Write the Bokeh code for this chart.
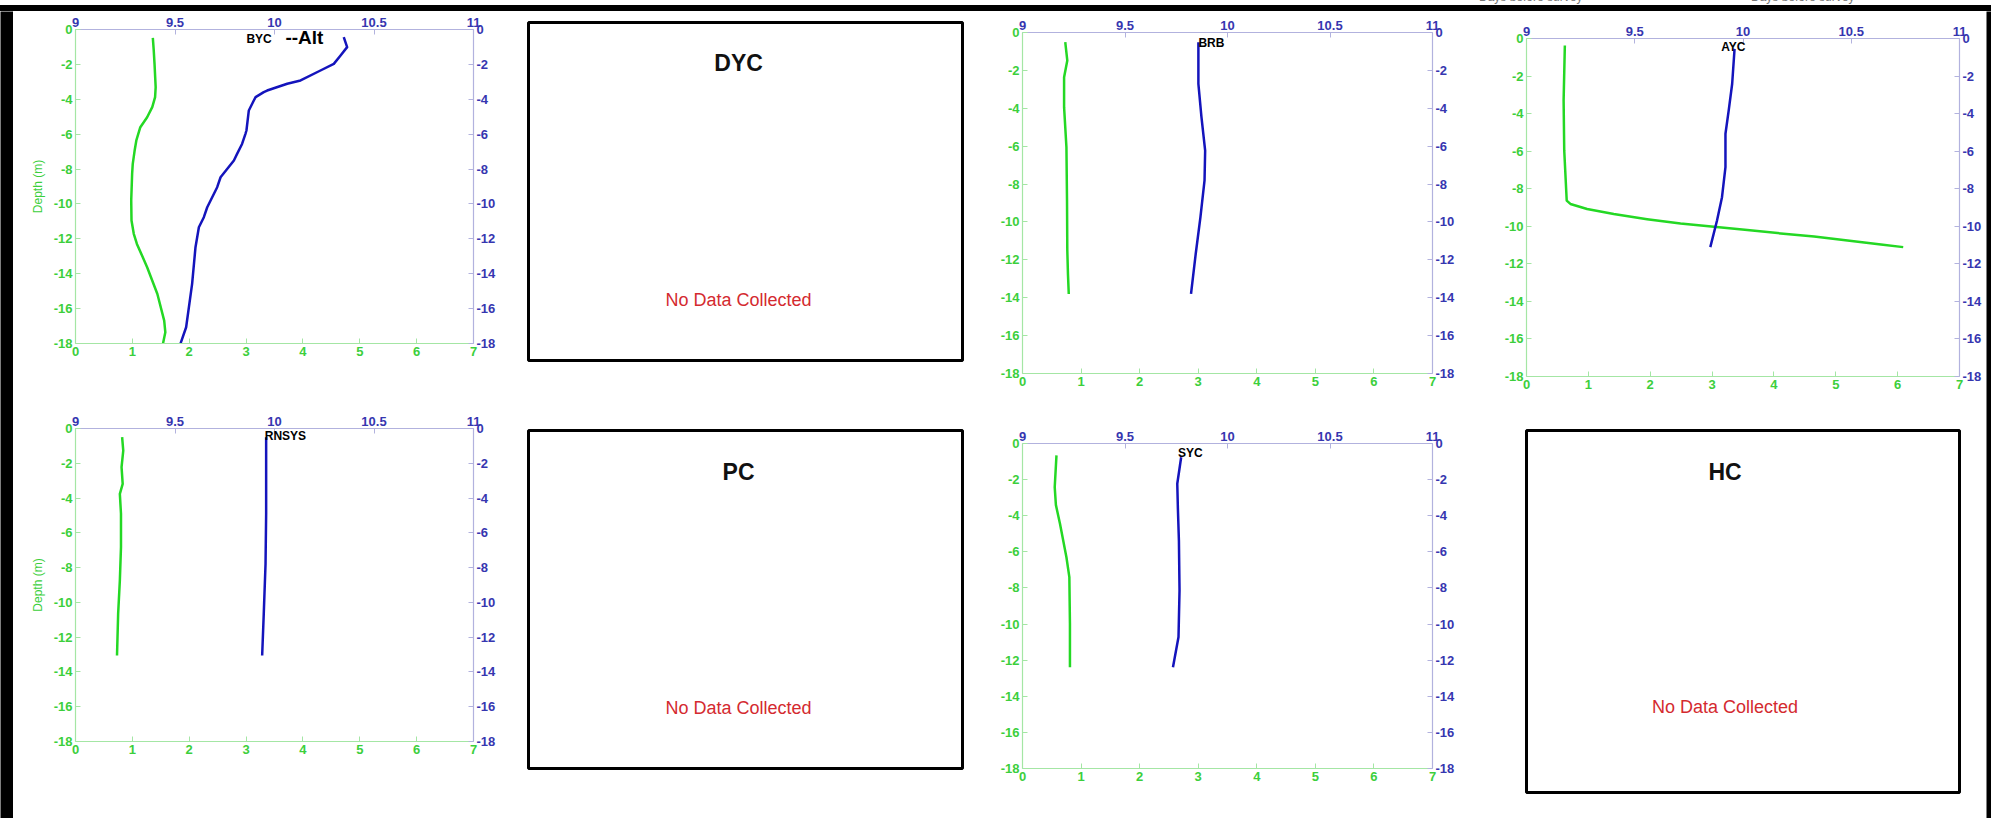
from bokeh.plotting import figure
from bokeh.models import Range1d, LinearAxis, FixedTicker, Label, Div
from bokeh.layouts import row, column
from bokeh.embed import file_html
from bokeh.resources import INLINE

# ---------------- data ----------------
# green profile -> bottom axis (0..7), blue profile -> top axis (9..11); y = depth (m)
byc_green_x = [1.36, 1.376, 1.39, 1.41, 1.40, 1.35, 1.26, 1.14, 1.07, 1.04, 1.007, 0.996, 0.98, 0.985,
               1.025, 1.08, 1.17, 1.26, 1.44, 1.56, 1.58, 1.54]
byc_green_depth = [-0.48, -1.2, -1.97, -3.3, -3.88, -4.45, -5.03, -5.6, -6.36, -6.94, -7.7, -8.27, -9.8, -10.95,
                   -11.71, -12.29, -12.96, -13.63, -15.16, -16.69, -17.36, -17.99]
byc_blue_x = [10.348, 10.365, 10.332, 10.298, 10.231, 10.131, 10.064, 9.963, 9.946, 9.905, 9.896, 9.871,
              9.859, 9.854, 9.837, 9.812, 9.796, 9.729, 9.712, 9.662, 9.645, 9.62, 9.603, 9.6, 9.586, 9.556, 9.528]
byc_blue_depth = [-0.44, -1.01, -1.49, -1.97, -2.35, -2.92, -3.11, -3.5, -3.59, -3.88, -4.07, -4.64,
                  -5.79, -5.98, -6.56, -7.13, -7.51, -8.47, -9.04, -10.19, -10.76, -11.34, -12.48, -12.85,
                  -14.58, -17.07, -17.99]

rnsys_green_x = [0.82, 0.84, 0.81, 0.83, 0.78, 0.80, 0.80, 0.78, 0.75, 0.73]
rnsys_green_depth = [-0.5, -1.27, -2.22, -3.18, -3.76, -4.9, -6.82, -8.74, -10.66, -13.05]
rnsys_blue_x = [9.958, 9.958, 9.958, 9.955, 9.946, 9.938]
rnsys_blue_depth = [-0.5, -2.03, -4.9, -7.78, -10.66, -13.05]

brb_green_x = [0.73, 0.765, 0.71, 0.71, 0.75, 0.76, 0.765, 0.776, 0.79]
brb_green_depth = [-0.51, -1.48, -2.36, -3.94, -6.06, -8.87, -11.51, -12.74, -13.8]
brb_blue_x = [9.858, 9.858, 9.873, 9.891, 9.888, 9.868, 9.845, 9.822]
brb_blue_depth = [-0.51, -2.71, -4.47, -6.23, -7.81, -9.75, -11.68, -13.8]

ayc_green_x = [0.62, 0.60, 0.61, 0.65, 0.71, 0.98, 1.41, 1.95, 2.49, 3.03, 3.57, 4.11, 4.65, 5.19, 5.73, 6.09]
ayc_green_depth = [-0.37, -3.3, -5.96, -8.63, -8.81, -9.08, -9.35, -9.62, -9.85, -10.03, -10.2, -10.38,
                   -10.55, -10.76, -10.97, -11.11]
ayc_blue_x = [9.961, 9.95, 9.934, 9.919, 9.919, 9.903, 9.88, 9.849]
ayc_blue_depth = [-0.55, -2.41, -3.83, -5.07, -6.85, -8.45, -9.69, -11.11]

syc_green_x = [0.58, 0.55, 0.57, 0.64, 0.75, 0.80, 0.81, 0.81]
syc_green_depth = [-0.66, -2.42, -3.4, -4.45, -6.3, -7.4, -9.98, -12.39]
syc_blue_x = [9.774, 9.755, 9.758, 9.763, 9.766, 9.761, 9.734]
syc_blue_depth = [-0.76, -2.23, -3.6, -5.37, -8.14, -10.72, -12.39]

# station labels (top-axis units, depth)
station_names = ["BYC", "RNSYS", "BRB", "AYC", "SYC"]
station_label_x = [9.859, 9.951, 9.858, 9.899, 9.758]
station_label_y = [-0.57, -0.44, -0.58, -0.46, -0.54]

no_data_names = ["DYC", "PC", "HC"]
no_data_text = "No Data Collected"
header_text = "Days before survey"

x_bottom_ticks = [0, 1, 2, 3, 4, 5, 6, 7]
x_top_ticks = [9, 9.5, 10, 10.5, 11]
x_top_labels = ["9", "9.5", "10", "10.5", "11"]
depth_ticks = [0, -2, -4, -6, -8, -10, -12, -14, -16, -18]

# ---------------- styles ----------------
FONT = "Liberation Sans"
GREEN_LINE = "#24d824"
GREEN_TEXT = "#3ccf3c"
GREEN_AXIS = "#a4e6a4"
BLUE_LINE = "#1414bc"
BLUE_TEXT = "#3636b0"
BLUE_AXIS = "#b2b2de"
RED_TEXT = "#d42a2f"


def style_axis(ax, ticks, labels, line_col, text_col):
    ax.ticker = FixedTicker(ticks=ticks)
    ax.major_label_overrides = {float(t): l for t, l in zip(ticks, labels)}
    ax.axis_line_color = line_col
    ax.axis_line_width = 1.2
    ax.major_tick_line_color = line_col
    ax.major_tick_in = 5
    ax.major_tick_out = 0
    ax.minor_tick_line_color = None
    ax.major_label_text_color = text_col
    ax.major_label_text_font = FONT
    ax.major_label_text_font_size = "13px"
    ax.major_label_text_font_style = "bold"
    ax.major_label_standoff = 3


def profile(idx, gx, gy, bx, by, w, h, bl, br, bt, bb, depth_label=False, alt=False):
    p = figure(width=w, height=h, x_range=Range1d(0, 7), y_range=Range1d(-18, 0),
               output_backend="svg", toolbar_location=None,
               min_border_left=bl, min_border_right=br,
               min_border_top=bt, min_border_bottom=bb)
    p.extra_x_ranges = {"temp": Range1d(9, 11)}
    p.grid.visible = False
    p.outline_line_color = None
    p.background_fill_color = "white"
    p.border_fill_color = "white"
    bottom = p.xaxis[0]
    left = p.yaxis[0]
    top = LinearAxis(x_range_name="temp")
    right = LinearAxis()
    p.add_layout(top, "above")
    p.add_layout(right, "right")
    style_axis(bottom, x_bottom_ticks, [str(t) for t in x_bottom_ticks], GREEN_AXIS, GREEN_TEXT)
    style_axis(left, depth_ticks, [str(t) for t in depth_ticks], GREEN_AXIS, GREEN_TEXT)
    style_axis(top, x_top_ticks, x_top_labels, BLUE_AXIS, BLUE_TEXT)
    style_axis(right, depth_ticks, [str(t) for t in depth_ticks], BLUE_AXIS, BLUE_TEXT)
    if depth_label:
        left.axis_label = "Depth (m)"
        left.axis_label_text_color = GREEN_TEXT
        left.axis_label_text_font = FONT
        left.axis_label_text_font_size = "12px"
        left.axis_label_text_font_style = "normal"
        left.axis_label_standoff = 6

    p.line(gx, gy, line_color=GREEN_LINE, line_width=2.5, line_join="round")
    p.line(bx, by, line_color=BLUE_LINE, line_width=2.5, line_join="round", x_range_name="temp")

    p.add_layout(Label(x=station_label_x[idx], y=station_label_y[idx], x_range_name="temp",
                       text=station_names[idx], text_font=FONT, text_font_size="12px",
                       text_font_style="bold", text_color="black",
                       text_align="left", text_baseline="middle"))
    if alt:
        p.add_layout(Label(x=10.055, y=-0.46, x_range_name="temp", text="--Alt",
                           text_font=FONT, text_font_size="19px", text_font_style="bold",
                           text_color="black", text_align="left", text_baseline="middle"))
    return p


def nodata(idx, w, h, bl, br, bt, bb, title_y, msg_y, cx=0.484):
    p = figure(width=w, height=h, x_range=Range1d(0, 1), y_range=Range1d(0, 1),
               output_backend="svg", toolbar_location=None,
               x_axis_location=None, y_axis_location=None,
               min_border_left=bl, min_border_right=br,
               min_border_top=bt, min_border_bottom=bb)
    p.grid.visible = False
    p.outline_line_color = "black"
    p.outline_line_width = 3
    p.background_fill_color = "white"
    p.border_fill_color = "white"
    p.add_layout(Label(x=cx, y=title_y, text=no_data_names[idx], text_font=FONT,
                       text_font_size="23px", text_font_style="bold", text_color="#111111",
                       text_align="center", text_baseline="middle"))
    p.add_layout(Label(x=cx, y=msg_y, text=no_data_text, text_font=FONT,
                       text_font_size="18px", text_color=RED_TEXT,
                       text_align="center", text_baseline="middle"))
    return p


def bar(w, h, color="black"):
    b = figure(width=w, height=h, output_backend="svg", toolbar_location=None, title=None,
               x_axis_location=None, y_axis_location=None, min_border=0,
               background_fill_color=color, border_fill_color=color,
               outline_line_color=None, x_range=Range1d(0, w), y_range=Range1d(0, h))
    b.grid.visible = False
    return b


# strip above the frame: the (clipped) remains of two header captions
spans = "".join(
    '<span style="position:absolute;left:%dpx;top:-9px;font-family:\'Liberation Sans\';'
    'font-size:12px;line-height:12px;color:#777;white-space:nowrap">%s</span>' % (hx, header_text)
    for hx in [1479, 1751])
strip = Div(text=spans, width=1991, height=5,
            styles={"position": "relative", "overflow": "hidden", "margin": "0", "padding": "0"})

top_bar = Div(text="", width=1991, height=6,
              styles={"background-color": "black", "margin": "0", "padding": "0"})

byc = profile(0, byc_green_x, byc_green_depth, byc_blue_x, byc_blue_depth,
              507, 379, 62, 47, 18, 47, depth_label=True, alt=True)
rnsys = profile(1, rnsys_green_x, rnsys_green_depth, rnsys_blue_x, rnsys_blue_depth,
                507, 428, 62, 47, 38, 77, depth_label=True)
brb = profile(2, brb_green_x, brb_green_depth, brb_blue_x, brb_blue_depth,
              505, 389, 32, 40, 21, 27)
syc = profile(4, syc_green_x, syc_green_depth, syc_blue_x, syc_blue_depth,
              505, 418, 31, 63, 43, 50)
ayc = profile(3, ayc_green_x, ayc_green_depth, ayc_blue_x, ayc_blue_depth,
              491, 389, 31, 27, 27, 24)

dyc = nodata(0, 470, 379, 8, 28, 11, 30, 0.879, 0.18)
pc = nodata(1, 470, 428, 8, 28, 40, 50, 0.876, 0.18)
hc = nodata(2, 491, 418, 17, 16, 30, 26, 0.884, 0.235, cx=0.4585)

colA = column(byc, rnsys)
colB = column(dyc, pc)
colC = column(brb, syc)
colD = column(ayc, hc)

main = row(bar(13, 807), colA, colB, colC, colD, bar(5, 807))
layout = column(strip, top_bar, main)

open("out.html", "w").write(file_html(layout, INLINE))
